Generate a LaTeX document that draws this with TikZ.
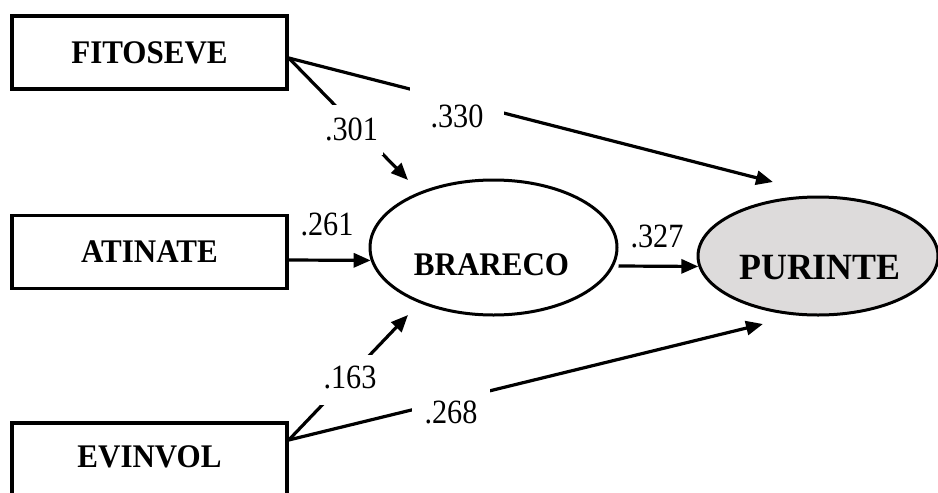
\documentclass[tikz,border=0pt]{standalone}
\usepackage{fontspec}
\setmainfont{Liberation Serif}
\newfontfamily\namefont[FakeStretch=0.94]{Liberation Serif}
\newfontfamily\outcomefont[FakeStretch=0.97]{Liberation Serif}
\newfontfamily\coeffont[FakeStretch=0.89]{Liberation Serif}
\usetikzlibrary{arrows.meta,shapes.geometric}
\definecolor{latentgray}{RGB}{221,219,219}
\tikzset{
  observed/.style={draw, line width=3.5pt, minimum width=275pt, minimum height=73pt,
    inner sep=0pt, font=\namefont\fontsize{33}{33}\selectfont\bfseries},
  latent/.style={ellipse, draw, line width=3pt, inner sep=0pt},
  effect/.style={line width=3.2pt, -{Triangle[length=17pt,width=14pt]}},
  coef/.style={font=\coeffont\fontsize{34}{34}\selectfont, inner sep=0pt, anchor=base},
  gap/.style={fill=white}
}
\begin{document}
\begin{tikzpicture}[x=1pt,y=-1pt]
\clip (0,0) rectangle (938,493);
\fill[white] (0,0) rectangle (938,493);

% exogenous indicators
\node[observed] (fit) at (149.5,52.5) {FITOSEVE};
\node[observed] (ati) at (149.5,252) {ATINATE};
\node[observed, minimum height=74pt, text depth=6pt] (evi) at (149.5,460) {EVINVOL};

% latent constructs
\node[latent, minimum width=247pt, minimum height=135pt,
  label={[font=\namefont\fontsize{33}{33}\selectfont\bfseries, xshift=-2pt, yshift=-17.5pt]center:BRARECO}]
  (bra) at (493.5,247.5) {};
\node[latent, fill=latentgray, minimum width=240pt, minimum height=118pt,
  label={[font=\outcomefont\fontsize{37}{37}\selectfont\bfseries, xshift=2pt, yshift=-12pt]center:PURINTE}]
  (pur) at (818,256) {};

% structural paths
\draw[effect] ([yshift=-5.5pt]fit.east) -- ([xshift=-85.5pt,yshift=67.5pt]bra.center);
\draw[effect] ([yshift=-5.5pt]fit.east) -- ([xshift=-45pt,yshift=74pt]pur.center);
\draw[effect] ([yshift=-8pt]ati.east) -- (bra.186);
\draw[effect] ([yshift=-18.5pt]bra.east) -- (pur.185);
\draw[effect] ([yshift=20pt]evi.east) -- ([xshift=-85.5pt,yshift=-67.5pt]bra.center);
\draw[effect] ([yshift=20pt]evi.east) -- ([xshift=-55pt,yshift=-68pt]pur.center);

% path coefficients
\node[coef, gap, minimum width=94pt, text height=40pt, text depth=2pt] (c330) at (457,127) {.330};
\node[coef, gap, minimum width=63pt, text height=35pt, text depth=15pt] (c301) at (351.5,140) {.301};
\node[coef, gap, minimum width=60pt, text height=33pt, text depth=17pt] (c163) at (350,388) {.163};
\node[coef, gap, minimum width=78pt, text height=34pt, text depth=4pt] (c268) at (451,423) {.268};
\node[coef] (c261) at (327,235) {.261};
\node[coef] (c327) at (657,247) {.327};
\end{tikzpicture}
\end{document}
